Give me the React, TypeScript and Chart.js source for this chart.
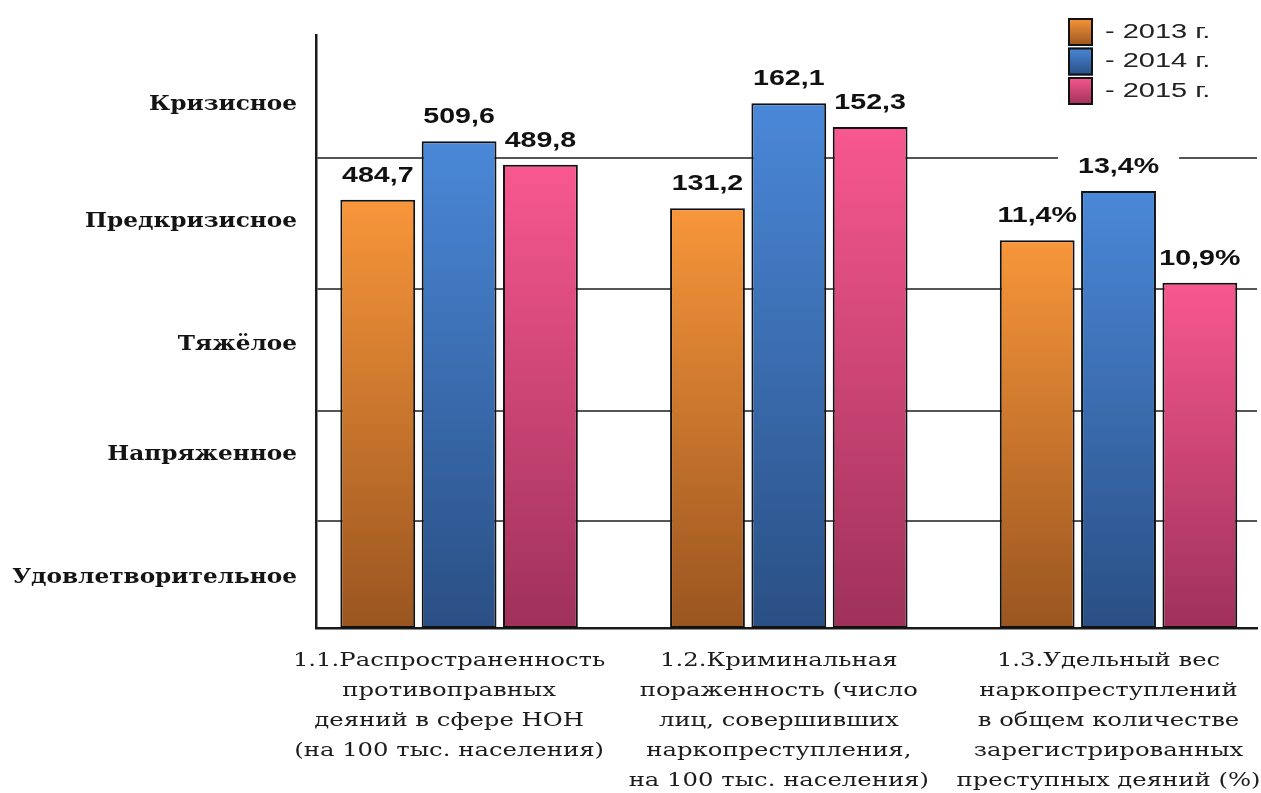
import { useEffect, useRef } from "react";
import { Chart, registerables } from "chart.js";

Chart.register(...registerables);

// ---- data ----
const categoryLines: string[][] = [
  ["1.1.Распространенность", "противоправных", "деяний в сфере НОН", "(на 100 тыс. населения)"],
  ["1.2.Криминальная", "пораженность (число", "лиц, совершивших", "наркопреступления,", "на 100 тыс. населения)"],
  ["1.3.Удельный вес", "наркопреступлений", "в общем количестве", "зарегистрированных", "преступных деяний (%)"],
];
const levelNames = ["Удовлетворительное", "Напряженное", "Тяжёлое", "Предкризисное", "Кризисное"];
// boundaries of the qualitative levels on a 0–100 situation index
const levelBounds = [0, 18.0, 36.6, 57.2, 79.3, 100];
// where each level name sits on the index
const levelLabelAt = [8.4, 29.2, 47.7, 68.5, 88.2];
const seriesNames = ["- 2013 г.", "- 2014 г.", "- 2015 г."];
const values2013 = ["484,7", "131,2", "11,4%"];
const values2014 = ["509,6", "162,1", "13,4%"];
const values2015 = ["489,8", "152,3", "10,9%"];
// bar heights on the situation index (0–100)
const index2013 = [72.2, 70.8, 65.4];
const index2014 = [82.1, 88.5, 73.7];
const index2015 = [78.1, 84.5, 58.2];

const valueLabels = [values2013, values2014, values2015];
const indexSeries = [index2013, index2014, index2015];
const palette: [string, string][] = [
  ["#f8963a", "#9a5520"],
  ["#4a88d8", "#2a4f84"],
  ["#f8588f", "#9e315a"],
];

const VALUE_STRETCH = 1.3;
const YLAB_STRETCH = 1.16;
const XLAB_STRETCH = 1.28;
const LEG_STRETCH = 1.45;
const VALUE_FONT = "bold 22px 'Liberation Sans', Arial, sans-serif";

function drawStretched(
  ctx: CanvasRenderingContext2D,
  text: string,
  x: number,
  y: number,
  align: CanvasTextAlign,
  stretch: number
) {
  ctx.save();
  ctx.translate(x, y);
  ctx.scale(stretch, 1);
  ctx.textAlign = align;
  ctx.fillText(text, 0, 0);
  ctx.restore();
}

const textPlugin = {
  id: "textPlugin",
  beforeDatasetsDraw(chart: any) {
    // white label plates (hide grid lines behind value labels, under the bars)
    const ctx: CanvasRenderingContext2D = chart.ctx;
    ctx.save();
    ctx.font = VALUE_FONT;
    ctx.fillStyle = "#ffffff";
    chart.data.datasets.forEach((_ds: any, di: number) => {
      const meta = chart.getDatasetMeta(di);
      meta.data.forEach((bar: any, i: number) => {
        const w = ctx.measureText(valueLabels[di][i]).width * VALUE_STRETCH;
        const cy = bar.y - 24;
        ctx.fillRect(bar.x - w / 2 - 20, cy - 13, w + 40, 26);
      });
    });
    ctx.restore();
  },
  afterDatasetsDraw(chart: any) {
    const ctx: CanvasRenderingContext2D = chart.ctx;
    const { chartArea, scales } = chart;
    const xs = scales.x;
    const ys = scales.y;

    // value labels
    ctx.save();
    ctx.font = VALUE_FONT;
    ctx.textBaseline = "middle";
    ctx.fillStyle = "#111111";
    chart.data.datasets.forEach((_ds: any, di: number) => {
      const meta = chart.getDatasetMeta(di);
      meta.data.forEach((bar: any, i: number) => {
        drawStretched(ctx, valueLabels[di][i], bar.x, bar.y - 24, "center", VALUE_STRETCH);
      });
    });
    ctx.restore();

    // y level labels
    ctx.save();
    ctx.font = "bold 20px 'DejaVu Serif', serif";
    ctx.textBaseline = "middle";
    ctx.fillStyle = "#141414";
    levelNames.forEach((name, i) => {
      drawStretched(ctx, name, chartArea.left - 19, ys.getPixelForValue(levelLabelAt[i]), "right", YLAB_STRETCH);
    });
    ctx.restore();

    // x category labels
    ctx.save();
    ctx.font = "19px 'DejaVu Serif', serif";
    ctx.textBaseline = "middle";
    ctx.fillStyle = "#1c1c1c";
    categoryLines.forEach((lines, i) => {
      const cx = xs.getPixelForValue(i) - 10;
      lines.forEach((line, li) => {
        drawStretched(ctx, line, cx, chartArea.bottom + 33 + li * 30, "center", XLAB_STRETCH);
      });
    });
    ctx.restore();

    // legend
    ctx.save();
    ctx.font = "20px 'Liberation Sans', Arial, sans-serif";
    ctx.textBaseline = "middle";
    const legLeft = chartArea.right - 189;
    seriesNames.forEach((name, i) => {
      const cy = 32 + i * 29.5;
      const top = cy - 14;
      const g = ctx.createLinearGradient(0, top, 0, top + 28);
      g.addColorStop(0, palette[i][0]);
      g.addColorStop(1, palette[i][1]);
      ctx.fillStyle = g;
      ctx.fillRect(legLeft, top, 25, 28);
      ctx.strokeStyle = "#111";
      ctx.lineWidth = 2;
      ctx.strokeRect(legLeft + 1, top + 1, 23, 26);
      ctx.fillStyle = "#222";
      drawStretched(ctx, name, legLeft + 37, cy, "left", LEG_STRETCH);
    });
    ctx.restore();
  },
};

export default function App() {
  const canvasRef = useRef<HTMLCanvasElement | null>(null);

  useEffect(() => {
    const canvas = canvasRef.current;
    if (!canvas) return;

    const datasets = indexSeries.map((series, si) => ({
      label: seriesNames[si],
      data: series.map((v, i) => ({ x: i, y: v })),
      backgroundColor: (c: any) => {
        const chart = c.chart;
        const ys = chart.scales?.y;
        if (!chart.chartArea || !ys || !c.raw) return palette[si][0];
        const top = ys.getPixelForValue(c.raw.y);
        const bottom = ys.getPixelForValue(0);
        const g = chart.ctx.createLinearGradient(0, top, 0, bottom);
        g.addColorStop(0, palette[si][0]);
        g.addColorStop(1, palette[si][1]);
        return g;
      },
      borderColor: "#111111",
      borderWidth: 2,
      borderSkipped: false,
      categoryPercentage: 0.74,
      barPercentage: 0.92,
    }));

    const chart = new Chart(canvas, {
      type: "bar",
      data: { datasets },
      options: {
        animation: false,
        responsive: true,
        maintainAspectRatio: false,
        layout: { padding: { top: 35, bottom: 165, left: 0, right: 4 } },
        plugins: {
          legend: { display: false },
          tooltip: { enabled: false },
          title: { display: false },
        },
        scales: {
          x: {
            type: "linear",
            offset: false,
            min: -0.434,
            max: 2.42,
            afterBuildTicks: (s: any) => {
              s.ticks = categoryLines.map((_l, i) => ({ value: i }));
            },
            grid: { display: false },
            ticks: { display: false },
            border: { display: true, color: "#1a1a1a", width: 2.5 },
            afterFit: (s: any) => {
              s.height = 0;
            },
          },
          y: {
            min: 0,
            max: 100,
            afterBuildTicks: (s: any) => {
              s.ticks = levelBounds.slice(1, 5).map((v) => ({ value: v }));
            },
            grid: { color: "#555555", lineWidth: 2, drawTicks: false },
            ticks: { display: false },
            border: { display: true, color: "#1a1a1a", width: 2.5 },
            afterFit: (s: any) => {
              s.width = 316;
            },
          },
        },
      },
      plugins: [textPlugin],
    });

    return () => chart.destroy();
  }, []);

  return (
    <div style={{ position: "absolute", left: 0, top: 0, width: 1261, height: 793, background: "#fff" }}>
      <canvas ref={canvasRef} />
    </div>
  );
}
